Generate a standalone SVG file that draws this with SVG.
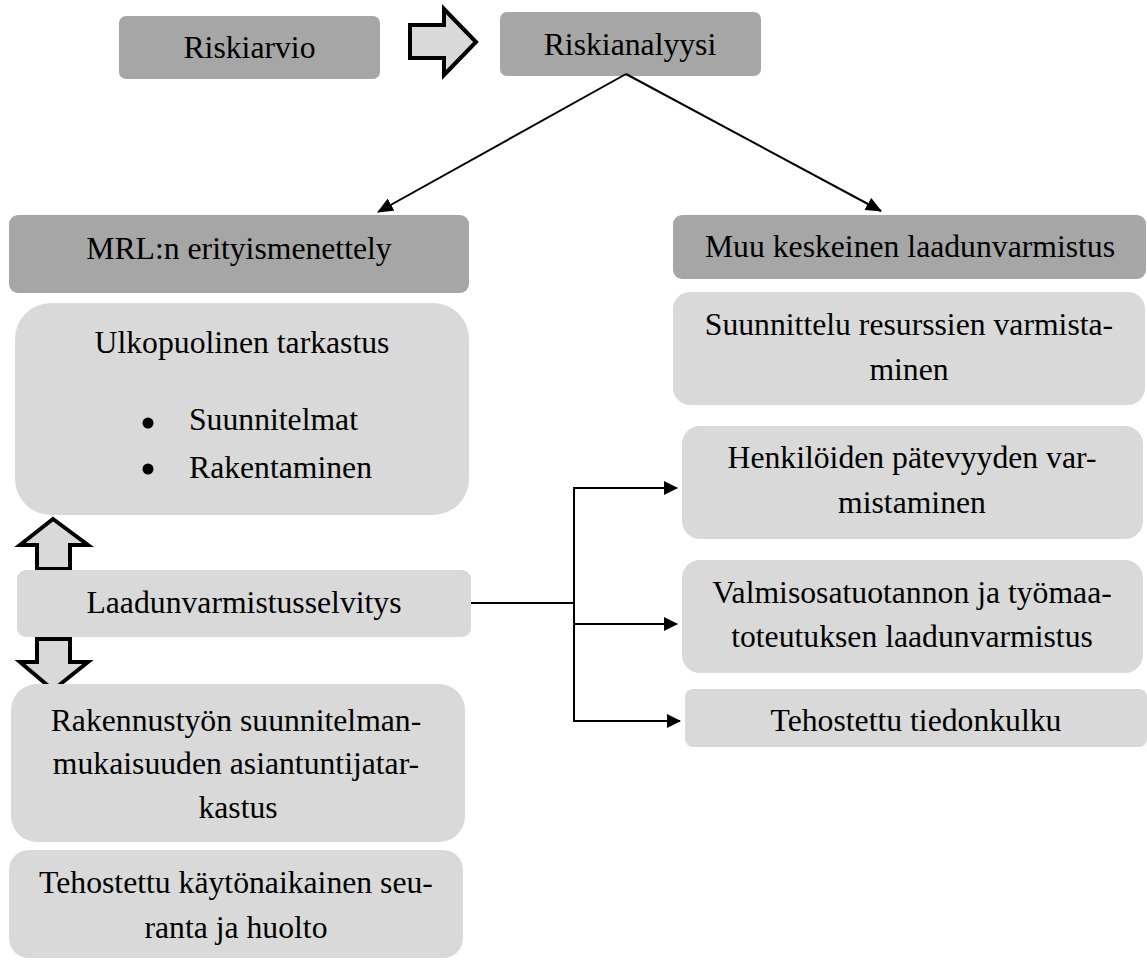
<svg xmlns="http://www.w3.org/2000/svg" width="1147" height="960" viewBox="0 0 1147 960">
  <style>
    .dark { fill: #a6a6a6; }
    .light { fill: #d9d9d9; }
    text { font-family: 'Liberation Serif', 'DejaVu Serif', serif; font-size: 31.7px; fill: #000; }
    .c { text-anchor: middle; }
    .link { fill: none; stroke: #000; stroke-width: 2; }
    .block { fill: #d9d9d9; stroke: #000; stroke-width: 4; stroke-linejoin: miter; }
  </style>
  <defs>
    <marker id="headDiag" viewBox="0 0 16 14" refX="15" refY="7" markerWidth="16" markerHeight="14" markerUnits="userSpaceOnUse" orient="auto">
      <path d="M0,0 L16,7 L0,14 Z" fill="#000"/>
    </marker>
    <marker id="headSide" viewBox="0 0 14 14" refX="13" refY="7" markerWidth="14" markerHeight="14" markerUnits="userSpaceOnUse" orient="auto">
      <path d="M0,0 L14,7 L0,14 Z" fill="#000"/>
    </marker>
  </defs>

  <rect width="1147" height="960" fill="#fff"/>

  <!-- top row -->
  <g id="riskiarvio">
    <rect class="dark" x="119" y="16" width="261" height="63" rx="7"/>
    <text class="c" x="249.5" y="58">Riskiarvio</text>
  </g>
  <g id="arrow-right">
    <path class="block" d="M410,25 H444 V9 L476,42 L444,75 V58 H410 Z"/>
  </g>
  <g id="riskianalyysi">
    <rect class="dark" x="500" y="12" width="261" height="64" rx="7"/>
    <text class="c" x="630" y="55">Riskianalyysi</text>
  </g>

  <!-- left column -->
  <g id="mrl">
    <rect class="dark" x="9" y="215" width="460" height="78" rx="9"/>
    <text class="c" x="239" y="259">MRL:n erityismenettely</text>
  </g>
  <g id="ulkopuolinen">
    <rect class="light" x="15" y="303" width="454" height="212" rx="36"/>
    <text class="c" x="242" y="353">Ulkopuolinen tarkastus</text>
    <circle cx="148" cy="423" r="5.5" fill="#000"/>
    <text x="189" y="430">Suunnitelmat</text>
    <circle cx="148" cy="469" r="5.5" fill="#000"/>
    <text x="189" y="478">Rakentaminen</text>
  </g>
  <g id="arrow-up">
    <path class="block" d="M53,519 L88,545 H70 V569 H37 V545 H20 Z"/>
  </g>
  <g id="laadunvarmistusselvitys">
    <rect class="light" x="17" y="570" width="454" height="67" rx="9"/>
    <text class="c" x="244" y="613">Laadunvarmistusselvitys</text>
  </g>
  <g id="arrow-down">
    <path class="block" d="M37,639 H70 V662 H88 L53,690 L20,662 H37 Z"/>
  </g>
  <g id="rakennustyo">
    <rect class="light" x="11" y="684" width="454" height="158" rx="26"/>
    <text class="c" x="236" y="731">Rakennustyön suunnitelman-</text>
    <text class="c" x="236" y="774">mukaisuuden asiantuntijatar-</text>
    <text class="c" x="238" y="818">kastus</text>
  </g>
  <g id="kaytonaikainen">
    <rect class="light" x="9" y="850" width="454" height="108" rx="20"/>
    <text class="c" x="236" y="893">Tehostettu käytönaikainen seu-</text>
    <text class="c" x="236" y="938">ranta ja huolto</text>
  </g>

  <!-- right column -->
  <g id="muu">
    <rect class="dark" x="673" y="215" width="473" height="64" rx="9"/>
    <text class="c" x="910" y="257">Muu keskeinen laadunvarmistus</text>
  </g>
  <g id="suunnittelu">
    <rect class="light" x="673" y="292" width="472" height="113" rx="17"/>
    <text class="c" x="909" y="335">Suunnittelu resurssien varmista-</text>
    <text class="c" x="909" y="380">minen</text>
  </g>
  <g id="henkilot">
    <rect class="light" x="682" y="426" width="461" height="113" rx="18"/>
    <text class="c" x="912" y="468">Henkilöiden pätevyyden var-</text>
    <text class="c" x="912" y="513">mistaminen</text>
  </g>
  <g id="valmisosat">
    <rect class="light" x="682" y="560" width="461" height="113" rx="18"/>
    <text class="c" x="912" y="603">Valmisosatuotannon ja työmaa-</text>
    <text class="c" x="912" y="647">toteutuksen laadunvarmistus</text>
  </g>
  <g id="tiedonkulku">
    <rect class="light" x="685" y="689" width="462" height="58" rx="8"/>
    <text class="c" x="916" y="731">Tehostettu tiedonkulku</text>
  </g>

  <!-- connectors -->
  <g id="connectors">
    <line class="link" x1="626" y1="74" x2="378" y2="212" marker-end="url(#headDiag)"/>
    <line class="link" x1="626" y1="74" x2="881" y2="211" marker-end="url(#headDiag)"/>
    <path class="link" d="M471,603 H574"/>
    <path class="link" d="M574,488 V721"/>
    <line class="link" x1="573" y1="488" x2="677" y2="488" marker-end="url(#headSide)"/>
    <line class="link" x1="573" y1="624" x2="677" y2="624" marker-end="url(#headSide)"/>
    <line class="link" x1="573" y1="721" x2="680" y2="721" marker-end="url(#headSide)"/>
  </g>
</svg>
